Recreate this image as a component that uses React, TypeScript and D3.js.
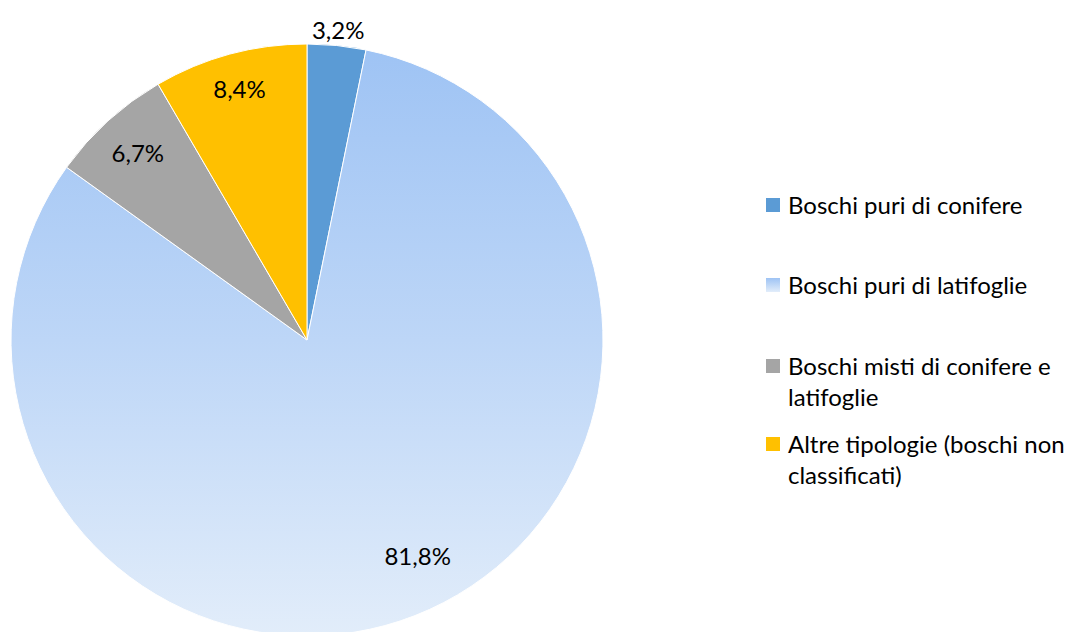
import React from "react";
import * as d3 from "d3";

const categories = [
  "Boschi puri di conifere",
  "Boschi puri di latifoglie",
  "Boschi misti di conifere e latifoglie",
  "Altre tipologie (boschi non classificati)",
];
const values = [3.2, 81.8, 6.7, 8.4];
const labels = ["3,2%", "81,8%", "6,7%", "8,4%"];
const legendLines = [
  ["Boschi puri di conifere"],
  ["Boschi puri di latifoglie"],
  ["Boschi misti di conifere e", "latifoglie"],
  ["Altre tipologie (boschi non", "classificati)"],
];

const W = 1075;
const H = 632;
const cx = 307;
const cy = 340;
const R = 296;
const fills = ["#5B9BD5", "url(#gradLat)", "#A5A5A5", "#FFC000"];
const labelRadius = [1.05, 0.82, 0.85, 0.875];
const labelAngleShift = [0, -0.1, 0, 0];
const legendY = [206, 286, 367, 445];
const FONT = "Lato, 'Open Sans', sans-serif";
const FS = 24;

export default function App() {
  const pie = d3.pie<number>().sort(null).value((d) => d);
  const arcs = pie(values);
  const arc = d3.arc<d3.PieArcDatum<number>>().innerRadius(0).outerRadius(R);

  return (
    <div style={{ position: "fixed", left: 0, top: 0, width: W, height: H, background: "#fff" }}>
      <svg width={W} height={H} style={{ display: "block" }}>
        <defs>
          <linearGradient id="gradLat" gradientUnits="userSpaceOnUse" x1="0" y1={-R} x2="0" y2={R}>
            <stop offset="0" stopColor="#9EC3F4" />
            <stop offset="0.5" stopColor="#BDD6F7" />
            <stop offset="1" stopColor="#E2EDFA" />
          </linearGradient>
          <linearGradient id="gradLeg" x1="0" y1="0" x2="0" y2="1">
            <stop offset="0" stopColor="#9EC3F4" />
            <stop offset="1" stopColor="#E2EDFA" />
          </linearGradient>
        </defs>
        <g transform={`translate(${cx},${cy})`}>
          {arcs.map((a, i) => (
            <path key={categories[i]} d={arc(a) || ""} fill={fills[i]} stroke="#fff" strokeWidth={1} />
          ))}
          {arcs.map((a, i) => {
            const mid = (a.startAngle + a.endAngle) / 2 + labelAngleShift[i];
            const r = R * labelRadius[i];
            const x = Math.sin(mid) * r;
            const y = -Math.cos(mid) * r;
            return (
              <text
                key={"l" + i}
                x={x}
                y={y - 1}
                textAnchor="middle"
                dominantBaseline="central"
                fontFamily={FONT}
                fontSize={FS}
                fill="#000"
              >
                {labels[i]}
              </text>
            );
          })}
        </g>
        <g>
          {legendLines.map((lines, i) => (
            <g key={"lg" + i}>
              <rect
                x={766}
                y={legendY[i] - 8}
                width={14}
                height={14}
                fill={i === 1 ? "url(#gradLeg)" : fills[i]}
              />
              {lines.map((ln, j) => (
                <text
                  key={j}
                  x={788}
                  y={legendY[i] - 2 + j * 31}
                  dominantBaseline="central"
                  fontFamily={FONT}
                  fontSize={FS}
                  fill="#000"
                >
                  {ln}
                </text>
              ))}
            </g>
          ))}
        </g>
      </svg>
    </div>
  );
}
